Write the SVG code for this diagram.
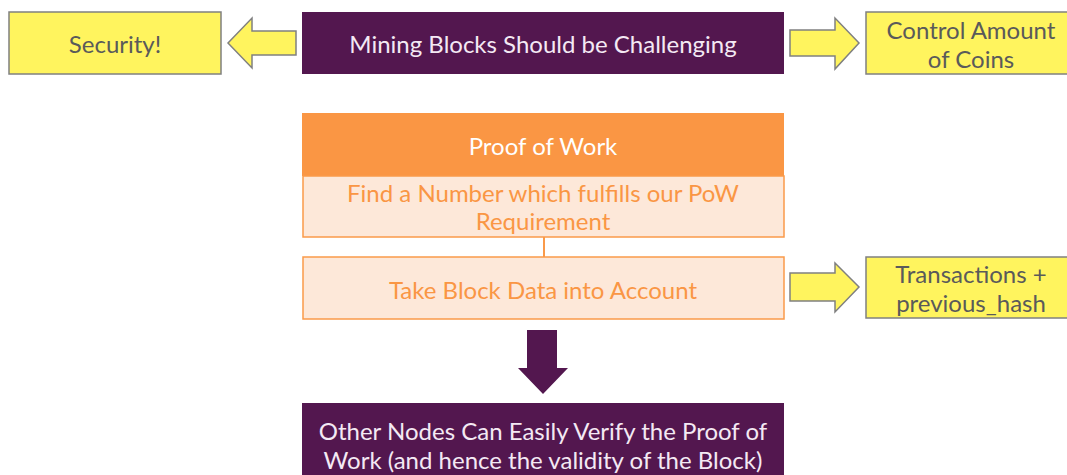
<svg xmlns="http://www.w3.org/2000/svg" width="1067" height="475" viewBox="0 0 1067 475">
<style>
text{font-family:Lato,"Liberation Sans",sans-serif;font-size:24px;text-anchor:middle;dominant-baseline:central}
.y{fill:#FFF45E;stroke:#808080;stroke-width:1.5}
.yt{fill:#5a5a5a}
.p{fill:#53174F}
.pt{fill:#F4E9F4}
.lt{fill:#FDE8D9;stroke:#FA9A4A;stroke-width:1.5}
.ot{fill:#FA9644}
</style>
<rect width="1067" height="475" fill="#fff"/>
<g id="security"><rect class="y" x="9" y="12" width="212" height="62"/><text class="yt" x="115" y="43">Security!</text></g>
<g id="mining"><rect class="p" x="302" y="12" width="482" height="62"/><text class="pt" x="543" y="43">Mining Blocks Should be Challenging</text></g>
<g id="control"><rect class="y" x="866" y="12" width="203" height="62"/><text class="yt" x="971" y="29">Control Amount</text><text class="yt" x="971" y="58">of Coins</text></g>
<g id="pow"><rect x="302" y="113" width="482" height="63" fill="#FA9644"/><text fill="#fff" x="543" y="145">Proof of Work</text></g>
<g id="find"><rect class="lt" x="303" y="176" width="481" height="61"/><text class="ot" x="543" y="192">Find a Number which fulfills our PoW</text><text class="ot" x="543" y="220">Requirement</text></g>
<g id="take"><rect class="lt" x="303" y="257" width="481" height="62"/><text class="ot" x="543" y="289">Take Block Data into Account</text></g>
<g id="transactions"><rect class="y" x="866" y="257" width="203" height="61"/><text class="yt" x="971" y="273">Transactions +</text><text class="yt" x="971" y="302">previous_hash</text></g>
<g id="other"><rect class="p" x="302" y="403" width="482" height="75"/><text class="pt" x="543" y="430">Other Nodes Can Easily Verify the Proof of</text><text class="pt" x="543" y="459">Work (and hence the validity of the Block)</text></g>
<g id="connectors">
<polygon class="y" points="296,31 252,31 252,18 228,43 252,68 252,55 296,55"/>
<polygon class="y" points="790,30 835,30 835,18 859,43 835,69 835,56 790,56"/>
<polygon class="y" points="790,273 835,273 835,263 859,287 835,312 835,301 790,301"/>
<line x1="544" y1="237" x2="544" y2="257" stroke="#FA9A4A" stroke-width="2"/>
<polygon class="p" points="527,330 557,330 557,368 568,368 543,394 518,368 527,368"/>
</g>
</svg>
